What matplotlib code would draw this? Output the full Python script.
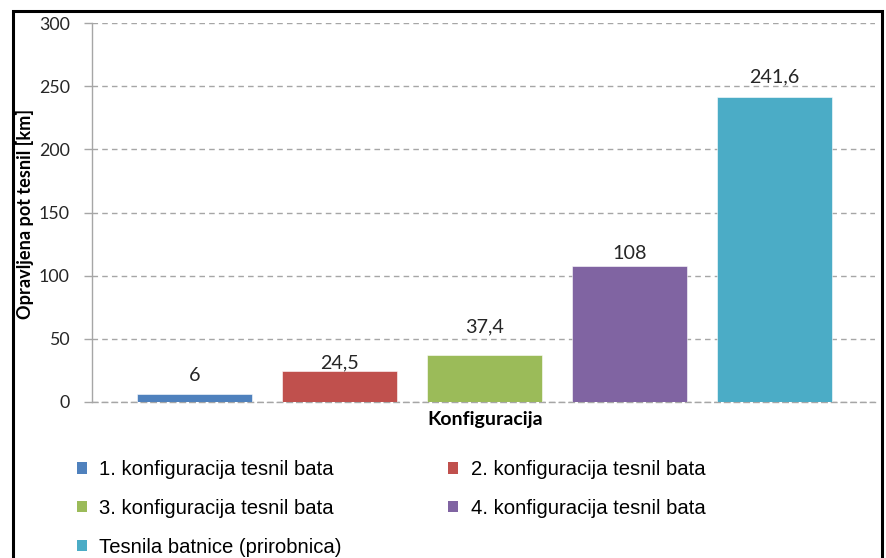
import matplotlib
matplotlib.use("Agg")
import matplotlib.pyplot as plt
from matplotlib.patches import Rectangle, Patch

categories = ["1. konfiguracija tesnil bata", "2. konfiguracija tesnil bata",
              "3. konfiguracija tesnil bata", "4. konfiguracija tesnil bata",
              "Tesnila batnice (prirobnica)"]
values = [6, 24.5, 37.4, 108, 241.6]
value_labels = ["6", "24,5", "37,4", "108", "241,6"]
yticks = [0, 50, 100, 150, 200, 250, 300]
colors = ["#4F81BD", "#C0504D", "#9BBB59", "#8064A2", "#4BACC6"]
label_offsets_px = [19, 8, 28, 12, 20]

W, H = 887, 558
fig = plt.figure(figsize=(W / 100, H / 100), dpi=100)
ax = fig.add_axes([92 / W, 1 - 402 / H, (875 - 92) / W, (402 - 23) / H])

num_font = "Lato"
x = list(range(len(values)))
bars = ax.bar(x, values, width=115 / 145, color=colors, edgecolor="white",
              linewidth=0.4, zorder=3)
for i, (b, lab) in enumerate(zip(bars, value_labels)):
    ax.annotate(lab, (b.get_x() + b.get_width() / 2, b.get_height()),
                xytext=(0, label_offsets_px[i]), textcoords="offset pixels",
                ha="center", va="center", fontsize=14.2, family=num_font,
                color="#262626", zorder=4)

ax.set_xlim(-0.707, 4.693)
ax.set_ylim(0, 300)
ax.set_yticks(yticks)
ax.set_yticklabels([str(t) for t in yticks], family=num_font, fontsize=12.8,
                   color="#262626")
ax.set_xticks([])
ax.yaxis.grid(True, linestyle=(0, (4, 3)), color="#A6A6A6", linewidth=1.0, zorder=0)
ax.tick_params(axis="y", direction="out", length=6, color="#A6A6A6", width=1, pad=10)
for s in ["top", "right"]:
    ax.spines[s].set_visible(False)
ax.spines["left"].set_color("#A6A6A6")
ax.spines["left"].set_linewidth(1.0)
ax.spines["bottom"].set_color("#A6A6A6")
ax.spines["bottom"].set_linestyle((0, (4, 3)))
ax.spines["bottom"].set_linewidth(1.0)

fig.text(485 / W, 1 - 420 / H, "Konfiguracija", ha="center", va="center",
         fontsize=14, fontweight="bold", family=num_font, color="#000000")
fig.text(25 / W, 1 - 214 / H, "Opravljena pot tesnil [km]", ha="center",
         va="center", rotation=90, fontsize=13.1, fontweight="bold",
         family=num_font, color="#000000")

handles = [Patch(facecolor=c, edgecolor="none") for c in colors]
order = [0, 2, 4, 1, 3]
leg = fig.legend([handles[i] for i in order], [categories[i] for i in order],
                 loc="upper left", bbox_to_anchor=(77 / W, 1 - 460 / H),
                 ncol=2, frameon=False, borderpad=0, borderaxespad=0,
                 handlelength=0.5, handleheight=0.5, handletextpad=0.6,
                 columnspacing=5.25, labelspacing=0.98,
                 prop={"family": "Liberation Sans", "size": 14.6})

fig.patches.append(Rectangle((13.5 / W, -0.1), (882.5 - 13.5) / W, 1.1 - 11 / H,
                             transform=fig.transFigure, fill=False,
                             edgecolor="black", linewidth=2.2, clip_on=False))

fig.savefig("out.png", dpi=100)
